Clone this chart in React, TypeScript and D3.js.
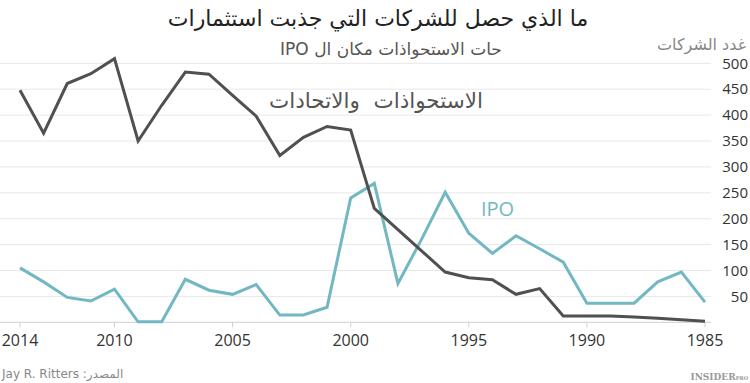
import React from "react";
import * as d3 from "d3";

const years = [2014,2013,2012,2011,2010,2009,2008,2007,2006,2005,2004,2003,2002,2001,2000,1999,1998,1997,1996,1995,1994,1993,1992,1991,1990,1989,1988,1987,1986,1985];
const mergers = [448,365,461,480,509,350,419,483,479,438,398,322,357,378,371,220,179,138,97,86,82,54,65,12,12,12,10,8,5,2];
const ipos = [105,78,48,41,64,1,1,83,62,54,73,14,14,29,240,268,75,160,251,172,133,167,142,116,37,37,37,78,97,39];
const yTicks = [50,100,150,200,250,300,350,400,450,500];
const xTicks = [2014,2010,2005,2000,1995,1990,1985];

const title = "ما الذي حصل للشركات التي جذبت استثمارات";
const subtitle = "حات الاستحواذات مكان ال IPO";
const yTitle = "غدد الشركات";
const mergersLabel = "الاستحواذات  والاتحادات";
const ipoLabel = "IPO";
const source = "المصدر: Jay R. Ritters";

export default function App() {
  const W = 750, H = 383;
  const x = d3.scaleLinear().domain([2014, 1985]).range([20, 705]);
  const y = d3.scaleLinear().domain([0, 500]).range([322.3, 63.3]);
  const line = d3.line<number>().x((_, i) => x(years[i])).y(d => y(d));
  const arabic = "'DejaVu Sans', 'Noto Sans', sans-serif";
  const num = "'Open Sans', 'Noto Sans', sans-serif";
  return (
    <svg width={W} height={H} style={{ position: "absolute", left: 0, top: 0, background: "#fff" }}>
      {yTicks.map(t => (
        <g key={t}>
          <line x1={0} x2={711} y1={y(t)} y2={y(t)} stroke="#e8e8e8" strokeWidth={1} />
          <text x={748} y={y(t)} dy="0.35em" textAnchor="end" fontFamily={num} fontSize={15} fill="#333">{t}</text>
        </g>
      ))}
      <line x1={0} x2={711} y1={y(0)} y2={y(0)} stroke="#cfcfcf" strokeWidth={1} />
      {xTicks.map(t => (
        <g key={t}>
          <line x1={x(t)} x2={x(t)} y1={y(0)} y2={y(0) + 5} stroke="#cfcfcf" />
          <text x={x(t)} y={346} textAnchor="middle" fontFamily={num} fontSize={16} fill="#333">{t}</text>
        </g>
      ))}
      <path d={line(ipos) || ""} fill="none" stroke="#72b8c2" strokeWidth={3} strokeLinejoin="miter" />
      <path d={line(mergers) || ""} fill="none" stroke="#505050" strokeWidth={3} strokeLinejoin="miter" />
      <text x={378} y={26} textAnchor="middle" direction="rtl" fontFamily={arabic} fontSize={22} fill="#222">{title}</text>
      <text x={391} y={55} textAnchor="middle" direction="rtl" fontFamily={arabic} fontSize={17} fill="#555">{subtitle}</text>
      <text x={746} y={50} textAnchor="start" direction="rtl" fontFamily={arabic} fontSize={16} fill="#888">{yTitle}</text>
      <text x={483} y={108} textAnchor="start" direction="rtl" fontFamily={arabic} fontSize={21.5} fill="#555" style={{ whiteSpace: "pre" }}>{mergersLabel}</text>
      <text x={481} y={216} fontFamily={num} fontSize={20} fill="#72b8c2">{ipoLabel}</text>
      <text x={2} y={378} textAnchor="end" direction="rtl" fontFamily={arabic} fontSize={12} fill="#888">{source}</text>
      <text x={748} y={380} textAnchor="end" fontFamily="'DejaVu Serif', serif" fontSize={9} fill="#999" fontWeight="bold">INSIDER<tspan fontSize={5}>PRO</tspan></text>
    </svg>
  );
}
